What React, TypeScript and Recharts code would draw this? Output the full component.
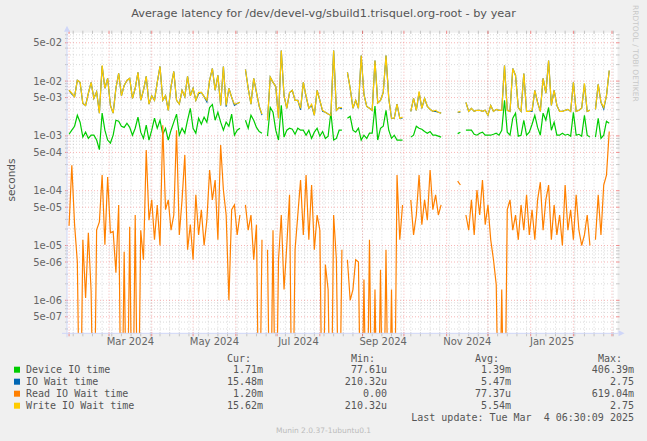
import React from 'react';
import { ComposedChart, Line, XAxis, YAxis, ReferenceLine, CartesianGrid } from 'recharts';

// ---------------- data ----------------
const startDate = '2024-02-01';
const stepDays = 2;

// Device IO time (milliseconds), one value every 2 days
const deviceMs = [
  1.07, 1.27, 1.5, 2.38, 1.78, 0.95, 1.17, 0.9, 1.03, 1.03,
  0.84, 0.56, 2.6, 1.27, 0.84, 0.74, 1.03, 1.93, 1.85, 1.5,
  1.43, 1.7, 1.43, 1.03, 1.38, 2.2, 1.17, 0.9, 1.57, 0.84,
  1.27, 2.1, 1.38, 1.93, 1.07, 1.38, 0.84, 1.27, 1.78, 2.5,
  1.03, 1.38, 1.12, 1.93, 3.19, 1.38, 1.12, 2.1, 1.63, 2.2,
  1.78, 3.3, 3.75, 1.93, 2.7, 1.78, 1.27, 1.78, 1.5, 2.5,
  1.03, 1.27, 1.38, null, 1.93, 1.38, 2.38, 1.93, 1.43, 1.2,
  1.12, null, 0.99, 3.3, 2.7, 1.27, 0.84, 3.6, 0.95, 1.27,
  1.38, 1.32, 1.07, 1.38, 1.27, 1.27, 1.03, 1.27, 0.9, 1.17,
  1.38, 0.99, 1.2, 0.9, 0.99, 2.7, 0.84, 0.9, 1.27, 1.27,
  null, 2.1, 2.28, 1.27, 1.17, 1.38, 0.84, 1.03, 0.9, 1.12,
  1.12, 3.5, 0.84, 1.38, 1.5, 2.93, 1.27, 0.9, 1.03, 0.84,
  0.84, 0.84, null, null, 0.95, 1.03, 1.5, 1.38, 1.32, 1.2,
  1.12, 1.2, 1.03, 1.03, 0.99, 0.95, null, null, null, null,
  null, 1.1, 1.17, null, 1.27, 1.27, 1.27, 1.07, 1.03, 1.12,
  1.17, 1.03, 1.03, 1.03, 1.07, 1.12, 1.03, 1.27, 4.46, 1.17,
  1.03, 2.1, 2.6, 0.99, 1.03, 1.93, 1.03, 1.17, 1.63, 2.38,
  1.43, 1.03, 2.6, 1.93, 3.3, 1.27, 1.78, 1.03, 1.03, 1.12,
  1.03, 1.07, 0.99, 2.7, 1.03, 1.07, 0.99, 2.38, 1.03, 0.95,
  null, 0.95, 2.1, 0.9, 1.03, 1.85, 1.71, null, null, null,
];

// IO Wait time (milliseconds)
const ioWaitMs = [
  6.8, 5.8, 5.2, 10.3, 9.5, 3.9, 3.6, 6.0, 9.5, 4.85,
  6.4, 2.6, 18.8, 7.4, 11.2, 3.6, 2.6, 7.4, 13.8, 5.4,
  8.35, 10.3, 11.2, 4.85, 7.4, 14.4, 4.46, 6.8, 12.2, 3.8,
  5.4, 4.46, 9.5, 18.5, 4.46, 5.4, 2.93, 8.0, 15.0, 4.46,
  3.8, 6.8, 5.2, 12.2, 5.4, 7.4, 4.46, 5.9, 6.2, 5.2,
  4.2, 10.3, 17.0, 6.8, 12.7, 3.6, 18.5, 3.4, 7.4, 5.05,
  3.6, 3.9, 4.1, null, 16.3, 7.4, 3.8, 11.2, 6.2, 3.45,
  2.4, null, 1.93, 11.8, 9.5, 8.0, 2.1, 36, 5.4, 3.19,
  6.2, 6.8, 4.46, 4.46, 3.0, 9.5, 5.2, 3.19, 3.6, 2.38,
  6.8, 4.46, 2.8, 2.7, 2.5, 2.38, 36, 2.93, 3.3, 3.1,
  null, 14.4, 7.4, 3.19, 4.46, 3.19, 29.4, 5.7, 3.45, 3.19,
  2.93, 23.8, 4.0, 4.46, 6.2, 29.4, 4.85, 2.1, 2.1, 3.8,
  2.1, 2.1, null, null, 2.8, 4.85, 2.93, 6.2, 3.19, 4.85,
  3.45, 3.05, 2.8, 2.8, 2.7, 2.6, null, null, null, null,
  null, 2.7, 2.7, null, 4.1, 2.8, 3.19, 2.8, 2.93, 2.93,
  2.8, 2.93, 2.38, 3.6, 2.8, 3.05, 2.93, 2.93, 19.3, 2.93,
  2.8, 17.0, 12.7, 3.3, 2.8, 13.8, 2.8, 2.8, 2.8, 6.8,
  4.1, 2.8, 11.2, 6.0, 23.8, 3.6, 6.8, 3.6, 2.8, 2.8,
  2.93, 3.05, 2.8, 9.5, 2.8, 2.93, 3.19, 8.8, 2.8, 2.93,
  null, 3.05, 8.7, 4.1, 3.1, 5.4, 15.5, null, null, null,
];

// Read IO Wait time (microseconds, 0 = no wait)
const readUs = [
  23, 290, 24, 5, 0, 12.7, 1.1, 17, 1.45, 0,
  19.3, 27, 193, 10.3, 178, 17, 18, 3.2, 55, 0,
  7.7, 0, 22, 0, 36, 0, 19, 5.5, 550, 29,
  68, 12.7, 55, 10, 1570, 45, 68, 19, 36, 1270,
  15.6, 68, 450, 8.35, 24, 5.5, 84, 15.6, 45, 10,
  29, 238, 68, 157, 12.7, 680, 103, 36, 1, 45,
  55, 15.6, 36, null, 55, 19, 36, 5.5, 24, 0,
  12.7, null, 8.35, 0, 19, 0, 5.5, 36, 1.57, 10,
  84, 0, 8.35, 36, 157, 15.6, 193, 12.7, 127, 8.35,
  36, 19, 0, 4.5, 1.57, 0, 36, 5.5, 0, 8.35,
  null, 5.5, 1, 1.57, 5.5, 5.0, 0, 2.4, 0, 12.7,
  0, 1.57, 0, 3.6, 0, 8.35, 0, 1.57, 0, 193,
  12.7, 55, null, null, 68, 15.6, 36, 193, 24, 68,
  29, 238, 45, 84, 36, 55, null, null, null, null,
  null, 150, 127, null, 36, 19, 68, 15.6, 103, 36,
  157, 24, 55, 12.7, 5.5, 1.93, 0, 1.57, 0, 45,
  68, 19, 36, 12.7, 55, 19, 84, 15.6, 45, 12.7,
  68, 143, 19, 68, 127, 12.7, 55, 15.6, 36, 10,
  127, 19, 45, 12.7, 84, 19, 10, 15.6, 36, 10,
  null, 12.7, 84, 15.6, 127, 193, 1200, null, null, null,
];

// Write IO Wait time (milliseconds)
const writeMs = [
  6.8, 6.0, 5.2, 10.3, 9.5, 3.9, 3.6, 6.0, 9.5, 4.85,
  6.4, 2.6, 19.3, 7.4, 11.2, 3.6, 2.6, 7.4, 13.8, 5.4,
  8.35, 10.3, 11.2, 4.85, 7.4, 14.4, 4.46, 6.8, 12.2, 3.8,
  5.4, 4.46, 9.5, 18.5, 4.46, 5.4, 2.93, 8.0, 15.0, 4.46,
  3.8, 6.8, 5.2, 12.2, 5.4, 7.4, 4.46, 6.2, 6.2, 5.2,
  4.46, 10.3, 17.0, 6.8, 12.7, 3.6, 18.5, 3.6, 7.4, 5.05,
  3.8, 3.9, 4.1, null, 16.3, 7.4, 3.8, 11.2, 6.2, 3.45,
  2.5, null, 1.93, 11.8, 9.5, 8.0, 2.1, 36, 5.4, 3.19,
  6.2, 6.8, 4.46, 4.46, 3.19, 9.5, 5.4, 3.19, 3.8, 2.38,
  6.8, 4.46, 2.93, 2.7, 2.5, 2.38, 36, 2.93, 3.3, 3.3,
  null, 14.4, 7.4, 3.19, 4.46, 3.19, 29.4, 5.7, 3.45, 3.19,
  2.93, 23.8, 4.0, 4.46, 6.2, 29.4, 4.85, 2.1, 2.1, 3.8,
  2.1, 2.2, null, null, 2.8, 4.85, 2.93, 6.5, 3.19, 4.85,
  3.45, 3.05, 2.8, 2.93, 2.7, 2.6, null, null, null, null,
  null, 2.7, 2.8, null, 4.1, 2.8, 3.19, 2.8, 2.93, 2.93,
  2.8, 2.93, 2.38, 3.6, 2.8, 3.05, 2.93, 2.93, 19.3, 2.93,
  2.8, 17.0, 12.7, 3.3, 2.8, 13.8, 2.8, 2.8, 2.93, 6.8,
  4.1, 2.8, 11.2, 6.0, 23.8, 3.6, 6.8, 3.6, 2.8, 2.8,
  2.93, 3.05, 2.8, 9.5, 2.8, 2.93, 3.19, 9.1, 2.8, 2.93,
  null, 3.05, 8.7, 4.1, 3.3, 5.4, 15.6, null, null, null,
];

const monthStarts = [
  '2024-02-01', '2024-03-01', '2024-04-01', '2024-05-01', '2024-06-01', '2024-07-01', '2024-08-01',
  '2024-09-01', '2024-10-01', '2024-11-01', '2024-12-01', '2025-01-01', '2025-02-01', '2025-03-01', '2025-04-01',
];
const labelMonths = ['2024-03-01', '2024-05-01', '2024-07-01', '2024-09-01', '2024-11-01', '2025-01-01'];
const monthLabels = ['Mar 2024', 'May 2024', 'Jul 2024', 'Sep 2024', 'Nov 2024', 'Jan 2025'];
const firstWeekStart = '2024-02-04';

const yTicks = [5e-2, 1e-2, 5e-3, 1e-3, 5e-4, 1e-4, 5e-5, 1e-5, 5e-6, 1e-6, 5e-7];

const legendNames = ['Device IO time', 'IO Wait time', 'Read IO Wait time', 'Write IO Wait time'];
const legendColors = ['#00CC00', '#0066B3', '#FF8000', '#FFCC00'];
const legendCur = ['1.71m', '15.48m', '1.20m', '15.62m'];
const legendMin = ['77.61u', '210.32u', '0.00', '210.32u'];
const legendAvg = ['1.39m', '5.47m', '77.37u', '5.54m'];
const legendMax = ['406.39m', '2.75', '619.04m', '2.75'];
const titleText = 'Average latency for /dev/devel-vg/sbuild1.trisquel.org-root - by year';
const lastUpdate = 'Last update: Tue Mar  4 06:30:09 2025';

// ---------------- derived ----------------
const DAY = 86400000;
const t0 = Date.parse(startDate + 'T00:00:00Z');
const dayOf = (s: string) => (Date.parse(s + 'T00:00:00Z') - t0) / DAY;

const X_MIN = -1.5;
const X_MAX = 398;
const Y_MIN = 2.5e-7;
const Y_MAX = 0.0764;
const FLOOR = 1e-9;

const rows = writeMs.map((w, i) => ({
  day: i * stepDays,
  device: deviceMs[i] == null ? null : (deviceMs[i] as number) * 1e-3,
  ioWait: ioWaitMs[i] == null ? null : (ioWaitMs[i] as number) * 1e-3,
  read: readUs[i] == null ? null : readUs[i] === 0 ? FLOOR : (readUs[i] as number) * 1e-6,
  write: w == null ? null : w * 1e-3,
}));

const monthDays = monthStarts.map(dayOf);
const labelDays = labelMonths.map((m) => {
  const d = dayOf(m);
  const idx = monthStarts.indexOf(m);
  return (d + monthDays[idx + 1]) / 2;
});
const weekDays: number[] = [];
for (let d = dayOf(firstWeekStart); d <= X_MAX; d += 7) weekDays.push(d);

const minorY: number[] = [];
const majorY: number[] = [];
for (let e = -7; e <= -1; e++) {
  for (let m = 1; m <= 9; m++) {
    const v = m * Math.pow(10, e);
    if (v < Y_MIN || v > Y_MAX) continue;
    if (m === 1 || m === 5) majorY.push(v);
    else minorY.push(v);
  }
}

const fmtExp = (v: number) => {
  const [m, e] = v.toExponential(0).split('e');
  const n = Math.abs(parseInt(e, 10));
  return `${m}e${e[0] === '-' ? '-' : '+'}${n < 10 ? '0' : ''}${n}`;
};
const fmtMonth = (v: number) => {
  const i = labelDays.findIndex((d) => Math.abs(d - v) < 0.01);
  return i >= 0 ? monthLabels[i] : '';
};

const AXIS = '#CFD6F8';
const GRID = 'rgba(143,143,143,0.32)';
const MGRID = 'rgba(233,59,59,0.38)';
const GRID_TICK = 'rgba(143,143,143,0.45)';
const MGRID_TICK = 'rgba(233,59,59,0.55)';
const FONT = 'DejaVu Sans, sans-serif';
const MONO = 'DejaVu Sans Mono, monospace';
const LW = 1.2;

const vGrid = (color: string, tick: string) => (p: any) => {
  const x = p.x1;
  const t = Math.min(p.y1, p.y2);
  const b = Math.max(p.y1, p.y2);
  return (
    <g>
      <line x1={x} y1={t} x2={x} y2={b} stroke={color} strokeDasharray="1 2" />
      <line x1={x} y1={t - 2} x2={x} y2={t + 1} stroke={tick} />
      <line x1={x} y1={b - 1} x2={x} y2={b + 3} stroke={tick} />
    </g>
  );
};
const hGrid = (color: string, tick: string) => (p: any) => {
  const y = p.y1;
  const l = Math.min(p.x1, p.x2);
  const r = Math.max(p.x1, p.x2);
  return (
    <g>
      <line x1={l} y1={y} x2={r} y2={y} stroke={color} strokeDasharray="1 2" />
      <line x1={l - 2} y1={y} x2={l + 1} y2={y} stroke={tick} />
      <line x1={r - 1} y1={y} x2={r + 2} y2={y} stroke={tick} />
    </g>
  );
};
const weekShape = vGrid(GRID, GRID_TICK);
const monthShape = vGrid(MGRID, MGRID_TICK);
const minorShape = hGrid(GRID, GRID_TICK);
const majorShape = hGrid(MGRID, MGRID_TICK);

const XArrow = (p: any) => {
  const y = p.y1;
  const l = Math.min(p.x1, p.x2);
  const r = Math.max(p.x1, p.x2);
  return (
    <g>
      <line x1={l - 5} y1={y} x2={r + 1} y2={y} stroke={AXIS} strokeWidth={1} />
      <polygon points={`${r + 1},${y - 3} ${r + 7},${y} ${r + 1},${y + 3}`} fill={AXIS} />
    </g>
  );
};
const YArrow = (p: any) => {
  const x = p.x1;
  const t = Math.min(p.y1, p.y2);
  const b = Math.max(p.y1, p.y2);
  return (
    <g>
      <line x1={x} y1={b + 4} x2={x} y2={t - 1} stroke={AXIS} strokeWidth={1} />
      <polygon points={`${x - 3},${t - 1} ${x},${t - 7} ${x + 3},${t - 1}`} fill={AXIS} />
    </g>
  );
};

const rowY = [369.7, 381.7, 393.7, 405.7];

export default function App() {
  return (
    <div style={{ position: 'absolute', left: 0, top: 0, width: 647, height: 441, background: '#F0F0F0', overflow: 'hidden' }}>
      <ComposedChart
        width={647}
        height={441}
        data={rows}
        margin={{ top: 32.7, right: 29.5, bottom: 87.7, left: 7 }}
      >
        <CartesianGrid fill="#FFFFFF" horizontal={false} vertical={false} stroke="none" />
        {weekDays.map((d) => (
          <ReferenceLine key={'w' + d} x={d} stroke={GRID} shape={weekShape} />
        ))}
        {minorY.map((v) => (
          <ReferenceLine key={'my' + v} y={v} stroke={GRID} shape={minorShape} />
        ))}
        {monthDays.map((d) => (
          <ReferenceLine key={'m' + d} x={d} stroke={MGRID} shape={monthShape} />
        ))}
        {majorY.map((v) => (
          <ReferenceLine key={'My' + v} y={v} stroke={MGRID} shape={majorShape} />
        ))}
        <XAxis
          type="number"
          dataKey="day"
          domain={[X_MIN, X_MAX]}
          allowDataOverflow
          ticks={labelDays}
          interval={0}
          tickFormatter={fmtMonth}
          axisLine={false}
          tickLine={false}
          tickSize={5}
          tickMargin={0}
          height={20}
          tick={{ fontSize: 10, fill: '#666666', fontFamily: FONT }}
        />
        <YAxis
          type="number"
          scale="log"
          domain={[Y_MIN, Y_MAX]}
          allowDataOverflow
          ticks={yTicks}
          interval={0}
          tickFormatter={fmtExp}
          axisLine={false}
          tickLine={false}
          tickSize={5}
          tickMargin={0}
          width={60}
          tick={{ fontSize: 10, fill: '#666666', fontFamily: FONT }}
        />
        <Line dataKey="device" stroke="#00CC00" strokeWidth={LW} dot={false} isAnimationActive={false} connectNulls={false} />
        <Line dataKey="ioWait" stroke="#0066B3" strokeWidth={LW} dot={false} isAnimationActive={false} connectNulls={false} />
        <Line dataKey="read" stroke="#FF8000" strokeWidth={LW} dot={false} isAnimationActive={false} connectNulls={false} />
        <Line dataKey="write" stroke="#FFCC00" strokeWidth={LW} dot={false} isAnimationActive={false} connectNulls={false} />
        <ReferenceLine y={Y_MIN} stroke={AXIS} shape={XArrow} />
        <ReferenceLine x={X_MIN} stroke={AXIS} shape={YArrow} />
      </ComposedChart>
      <svg width={647} height={441} style={{ position: 'absolute', left: 0, top: 0, pointerEvents: 'none' }}>
        <text x={323.5} y={17} textAnchor="middle" fontFamily={FONT} fontSize={11.3} fill="#555555">
          {titleText}
        </text>
        <text
          transform="translate(14.5,180) rotate(-90)"
          textAnchor="middle"
          fontFamily={FONT}
          fontSize={10.5}
          fill="#555555"
        >
          seconds
        </text>
        <text transform="translate(633,5) rotate(90)" fontFamily={FONT} fontSize={7.5} fill="#C8C8C8">
          RRDTOOL / TOBI OETIKER
        </text>
        <g fontFamily={MONO} fontSize={10} fill="#555555">
          <text x={227} y={361.9}>Cur:</text>
          <text x={351} y={361.9}>Min:</text>
          <text x={475} y={361.9}>Avg:</text>
          <text x={598} y={361.9}>Max:</text>
          {legendNames.map((n, i) => (
            <g key={n}>
              <rect x={14} y={rowY[i] - 3} width={6} height={6} fill={legendColors[i]} />
              <text x={26} y={rowY[i] + 3.6}>{n}</text>
              <text x={263} y={rowY[i] + 3.6} textAnchor="end">{legendCur[i]}</text>
              <text x={387} y={rowY[i] + 3.6} textAnchor="end">{legendMin[i]}</text>
              <text x={511} y={rowY[i] + 3.6} textAnchor="end">{legendAvg[i]}</text>
              <text x={634} y={rowY[i] + 3.6} textAnchor="end">{legendMax[i]}</text>
            </g>
          ))}
          <text x={634} y={421.3} textAnchor="end" style={{ whiteSpace: 'pre' }}>{lastUpdate}</text>
        </g>
        <text x={323.5} y={433} textAnchor="middle" fontFamily={FONT} fontSize={7.5} fill="#BBBBBB">
          Munin 2.0.37-1ubuntu0.1
        </text>
      </svg>
    </div>
  );
}
